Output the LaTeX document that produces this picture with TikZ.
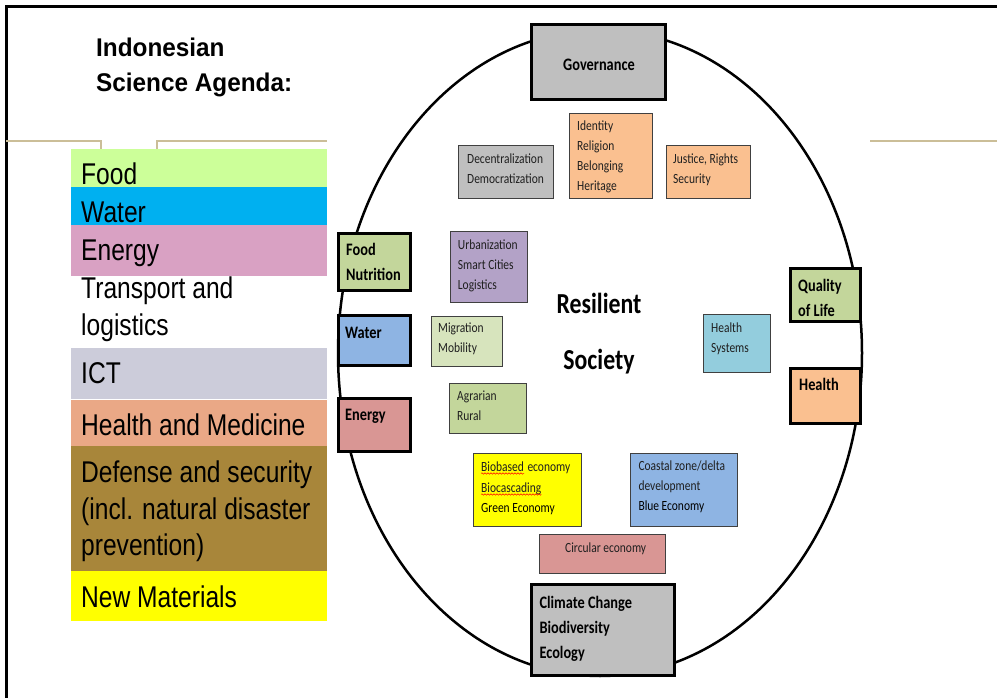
\documentclass[tikz,border=0pt]{standalone}
\usepackage{fontspec}
\usetikzlibrary{decorations.pathmorphing,calc}
% condensed faces used throughout
\newfontfamily\boxfont{Carlito}[FakeStretch=0.82]
\newfontfamily\listfont{Liberation Sans}[FakeStretch=0.82]
\newfontfamily\headfont{Liberation Sans}[FakeStretch=0.95]

\definecolor{govgray}{HTML}{BFBFBF}
\definecolor{peach}{HTML}{FAC090}
\definecolor{olive}{HTML}{C3D69B}
\definecolor{skyb}{HTML}{8EB4E3}
\definecolor{rosy}{HTML}{D99694}
\definecolor{teal}{HTML}{93CDDD}
\definecolor{lilac}{HTML}{B3A2C7}
\definecolor{pale}{HTML}{D7E4BD}
\definecolor{edge}{HTML}{404040}
\definecolor{rule}{HTML}{CBBE98}
\definecolor{lfood}{HTML}{CCFF99}
\definecolor{lwater}{HTML}{00B0F0}
\definecolor{lenergy}{HTML}{D9A1C3}
\definecolor{lict}{HTML}{CCCCDA}
\definecolor{lhealth}{HTML}{EAA886}
\definecolor{ldefense}{HTML}{A8863A}
\definecolor{lnew}{HTML}{FFFF00}

\begin{document}
% multi-line labels are anchored at the baseline of their last line
\begin{tikzpicture}[x=1pt,y=-1pt,
  keybox/.style={draw=black, line width=3pt, rectangle, inner sep=0pt},
  topicbox/.style={draw=edge, line width=1.1pt, rectangle, inner sep=0pt},
  keytxt/.style={font=\boxfont\bfseries\fontsize{17.5}{25}\selectfont, align=left, inner sep=0pt, anchor=base west},
  smalltxt/.style={font=\boxfont\fontsize{14}{20}\selectfont, text=black!88, align=left, inner sep=0pt, anchor=base west},
  listtxt/.style={font=\listfont\fontsize{30}{36.7}\selectfont, align=left, inner sep=0pt, anchor=base west},
  wavy/.style={draw=red, line width=0.5pt, decorate, decoration={snake, amplitude=0.7pt, segment length=3pt}}
]
\useasboundingbox (0,0) rectangle (997,698);
\fill[white] (0,0) rectangle (997,698);

% frame
\draw[line width=3pt] (6.5,698) -- (6.5,6.5) -- (997,6.5);

% thin rules
\draw[rule, line width=2pt] (6,141.5) -- (101,141.5) -- (101,149);
\draw[rule, line width=2pt] (157,149) -- (157,141.5) -- (327,141.5);
\draw[rule, line width=2pt] (870,141.5) -- (997,141.5);

% title
\node[font=\headfont\bfseries\fontsize{25.6}{35}\selectfont, align=left, inner sep=0pt, anchor=base west] (title) at (96,92) {Indonesian\\Science Agenda:};

% agenda list bands
\fill[lfood]    (71,149) rectangle (327,187);
\fill[lwater]   (71,187) rectangle (327,225);
\fill[lenergy]  (71,225) rectangle (327,276);
\fill[lict]     (71,348) rectangle (327,399);
\fill[lhealth]  (71,400) rectangle (327,446);
\fill[ldefense] (71,446) rectangle (327,571);
\fill[lnew]     (71,571) rectangle (327,621);

\node[listtxt] (lf) at (81,185) {Food};
\node[listtxt] (lw) at (81,222.7) {Water};
\node[listtxt] (le) at (81,260) {Energy};
\node[listtxt] (lt) at (81,335) {Transport and\\logistics};
\node[listtxt] (li) at (81,383.3) {ICT};
\node[listtxt] (lh) at (81,435) {Health and Medicine};
\node[listtxt] (ld) at (81,555.7) {Defense and security\\(incl. natural disaster\\prevention)};
\node[listtxt] (ln) at (81,607.7) {New Materials};

% the society ring
\draw[line width=2.5pt] (600,353) ellipse [x radius=262, y radius=323];

% boxes on the ring
\node[keybox, fill=govgray, minimum width=134, minimum height=75] (gov) at (598.5,62) {};
\node[keybox, fill=olive, minimum width=72, minimum height=57] (foodn) at (374.5,262) {};
\node[keybox, fill=skyb, minimum width=72, minimum height=50] (water) at (374.5,340.5) {};
\node[keybox, fill=rosy, minimum width=72, minimum height=53] (energy) at (374.5,425) {};
\node[keybox, fill=olive, minimum width=70, minimum height=53] (qol) at (825.5,295) {};
\node[keybox, fill=peach, minimum width=70, minimum height=55] (health) at (825.5,396) {};
\node[keybox, fill=govgray, minimum width=143, minimum height=91] (climate) at (603,630) {};

\node[keytxt, anchor=base] (govt) at (599,71) {Governance};
\node[keytxt] (foodnt) at (346,280) {Food\\Nutrition};
\node[keytxt] (watert) at (345,338) {Water};
\node[keytxt] (energyt) at (345,420) {Energy};
\node[keytxt] (qolt) at (798,316.5) {Quality\\of Life};
\node[keytxt] (healtht) at (799,390) {Health};
\node[keytxt] (climatet) at (539.3,658.3) {Climate Change\\Biodiversity\\Ecology};

% topic boxes inside the ring
\node[topicbox, fill=govgray, minimum width=95, minimum height=53] (dec) at (506,172) {};
\node[topicbox, fill=peach, minimum width=83, minimum height=85] (ident) at (611,156) {};
\node[topicbox, fill=peach, minimum width=84, minimum height=53] (just) at (708.5,172) {};
\node[topicbox, fill=lilac, minimum width=77, minimum height=71] (urb) at (489,267) {};
\node[topicbox, fill=pale, minimum width=71, minimum height=50] (migr) at (467,341.5) {};
\node[topicbox, fill=olive, minimum width=77, minimum height=50] (agr) at (488,408.5) {};
\node[topicbox, fill=teal, minimum width=67, minimum height=58] (hsys) at (737,343.5) {};
\node[topicbox, fill=lnew, minimum width=108, minimum height=73] (bio) at (527.5,490) {};
\node[topicbox, fill=skyb, minimum width=107, minimum height=73] (coast) at (684,490) {};
\node[topicbox, fill=rosy, minimum width=126, minimum height=39] (circ) at (602.5,554) {};

\node[smalltxt] (dect) at (467,184) {Decentralization\\Democratization};
\node[smalltxt] (identt) at (577,190.7) {Identity\\Religion\\Belonging\\Heritage};
\node[smalltxt] (justt) at (673,183.8) {Justice, Rights\\Security};
\node[smalltxt] (urbt) at (457.7,289.3) {Urbanization\\Smart Cities\\Logistics};
\node[smalltxt] (migrt) at (438,352.5) {Migration\\Mobility};
\node[smalltxt] (agrt) at (457,420) {Agrarian\\Rural};
\node[smalltxt] (hsyst) at (711,352) {Health\\Systems};
\node[smalltxt] (circt) at (565,552) {Circular economy};

\node[smalltxt] (bio1) at (481,471) {Biobased};
\node[smalltxt] (bio1b) at ($(bio1.base east)+(3.2,0)$) {economy};
\node[smalltxt] (bio2) at (481,492) {Biocascading};
\node[smalltxt, text=black] (bio3) at (481,512) {Green Economy};
\draw[wavy] ($(bio1.base west)+(0,2.5)$) -- ($(bio1.base east)+(0,2.5)$);
\draw[wavy] ($(bio2.base west)+(0,2.5)$) -- ($(bio2.base east)+(0,2.5)$);

\node[smalltxt] (coastt) at (638.3,490) {Coastal zone/delta\\development};
\node[smalltxt, text=black] (coast3) at (638.3,510) {Blue Economy};

% centre label
\node[font=\boxfont\bfseries\fontsize{29}{35}\selectfont, inner sep=0pt, anchor=base] (res) at (599,313) {Resilient};
\node[font=\boxfont\bfseries\fontsize{29}{35}\selectfont, inner sep=0pt, anchor=base] (soc) at (599,369) {Society};
\end{tikzpicture}
\end{document}
